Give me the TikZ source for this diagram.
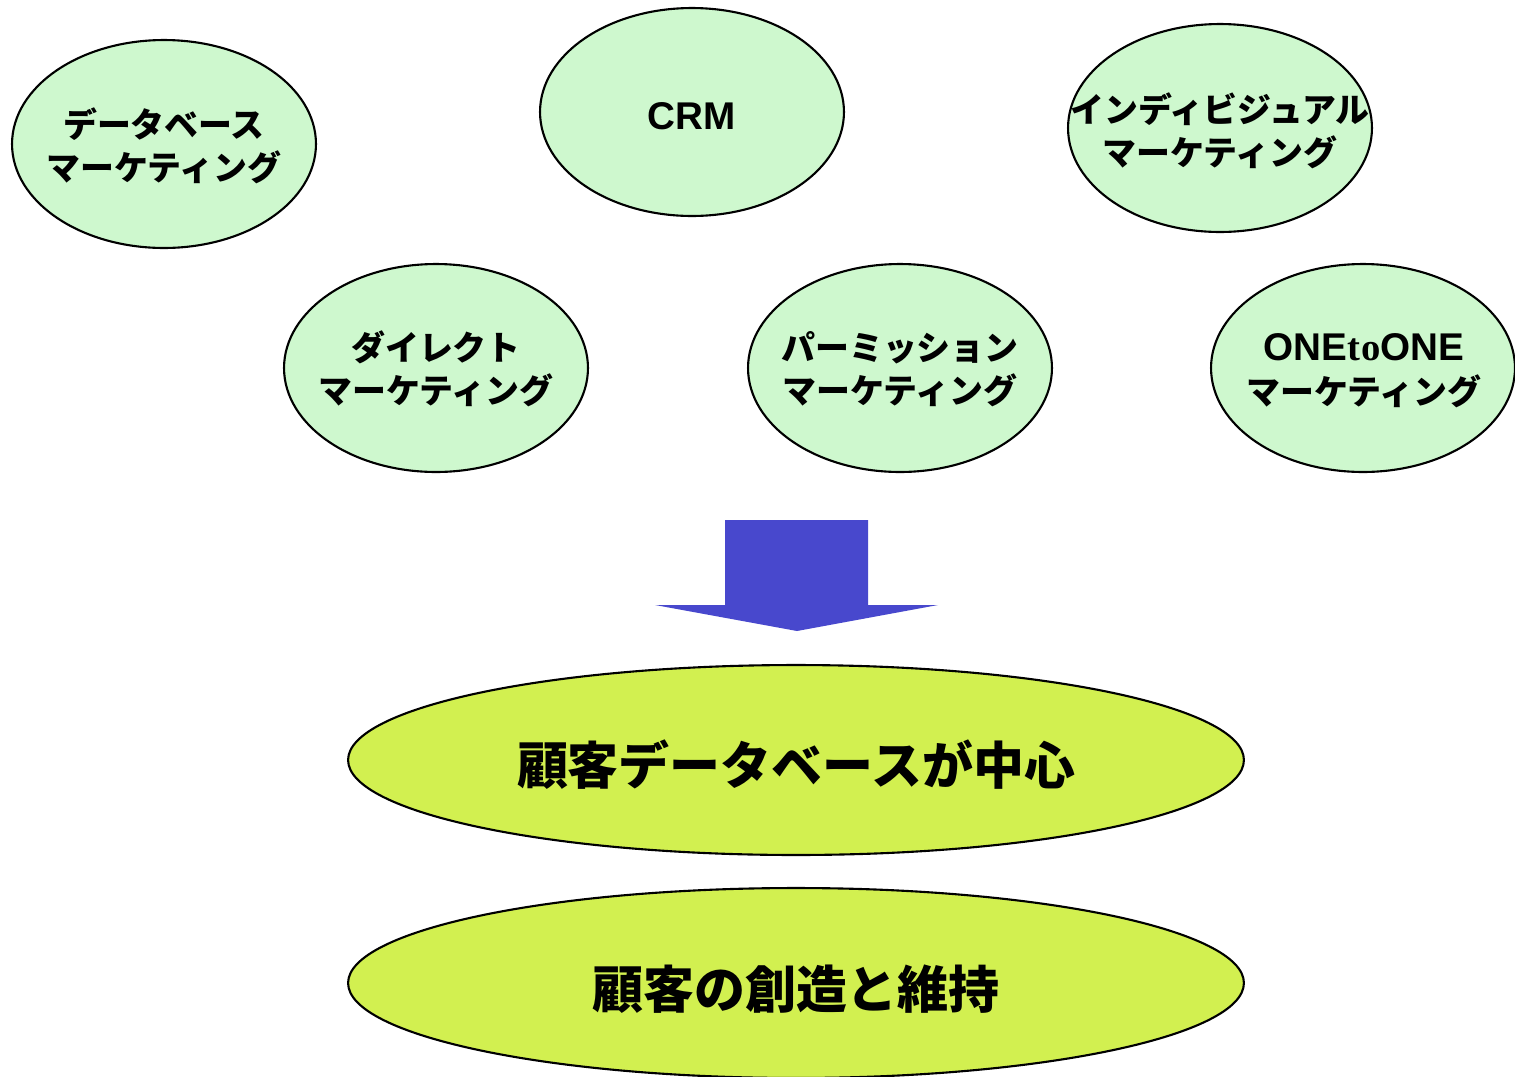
\documentclass[tikz,border=0pt]{standalone}
\usepackage{fontspec}
\setmainfont{Liberation Sans}
\newfontfamily\jp{Noto Sans CJK JP}
\newfontfamily\tms{Liberation Serif}
\usetikzlibrary{shapes.geometric}
\definecolor{mint}{RGB}{206,248,206}
\definecolor{lime}{RGB}{210,240,80}
\definecolor{arrowblue}{RGB}{72,72,205}
\tikzset{
  smallell/.style={ellipse, draw=black, line width=1.2pt, fill=mint, inner sep=0pt,
    minimum width=6.08cm, minimum height=4.16cm},
  bigell/.style={ellipse, draw=black, line width=1.2pt, fill=lime, inner sep=0pt,
    minimum width=17.92cm, minimum height=3.8cm},
  smalltxt/.style={align=center, font=\jp\bfseries\fontsize{19.3}{24.8}\selectfont, inner sep=0pt},
  lattxt/.style={font=\bfseries\fontsize{22}{26}\selectfont, inner sep=0pt},
  bigtxt/.style={font=\jp\bfseries\fontsize{29}{34}\selectfont, inner sep=0pt}
}
\begin{document}
\begin{tikzpicture}[x=0.02cm,y=-0.02cm]
\useasboundingbox (0,0) rectangle (1515,1076);
\begin{scope}
\clip (0,0) rectangle (1515,1076);
\node[smallell] (e1) at (164,144) {};
\node[smallell] (e2) at (692,112) {};
\node[smallell] (e3) at (1220,128) {};
\node[smallell] (e4) at (436,368) {};
\node[smallell] (e5) at (900,368) {};
\node[smallell] (e6) at (1363,368) {};
\node[smalltxt] (t1) at (164,146) {データベース\\マーケティング};
\node[lattxt] (t2) at (692,116) {CRM};
\node[smalltxt] (t3) at (1220,131) {インディビジュアル\\マーケティング};
\node[smalltxt] (t4) at (436,369) {ダイレクト\\マーケティング};
\node[smalltxt] (t5) at (900,369) {パーミッション\\マーケティング};
\node[lattxt] (t6a) at (1364,347) {ONE{\tms t\kern0.3pt o}ONE};
\node[smalltxt] (t6b) at (1364,391) {マーケティング};
\fill[arrowblue] (725,520) -- (868,520) -- (868,605) -- (938,605) -- (797,631) -- (655,605) -- (725,605) -- cycle;
\node[bigell] (b1) at (796,760) {};
\node[bigtxt] (bt1) at (796,765) {顧客データベースが中心};
\node[bigell] (b2) at (796,983) {};
\node[bigtxt] (bt2) at (796,989) {顧客の創造と維持};
\end{scope}
\end{tikzpicture}
\end{document}
